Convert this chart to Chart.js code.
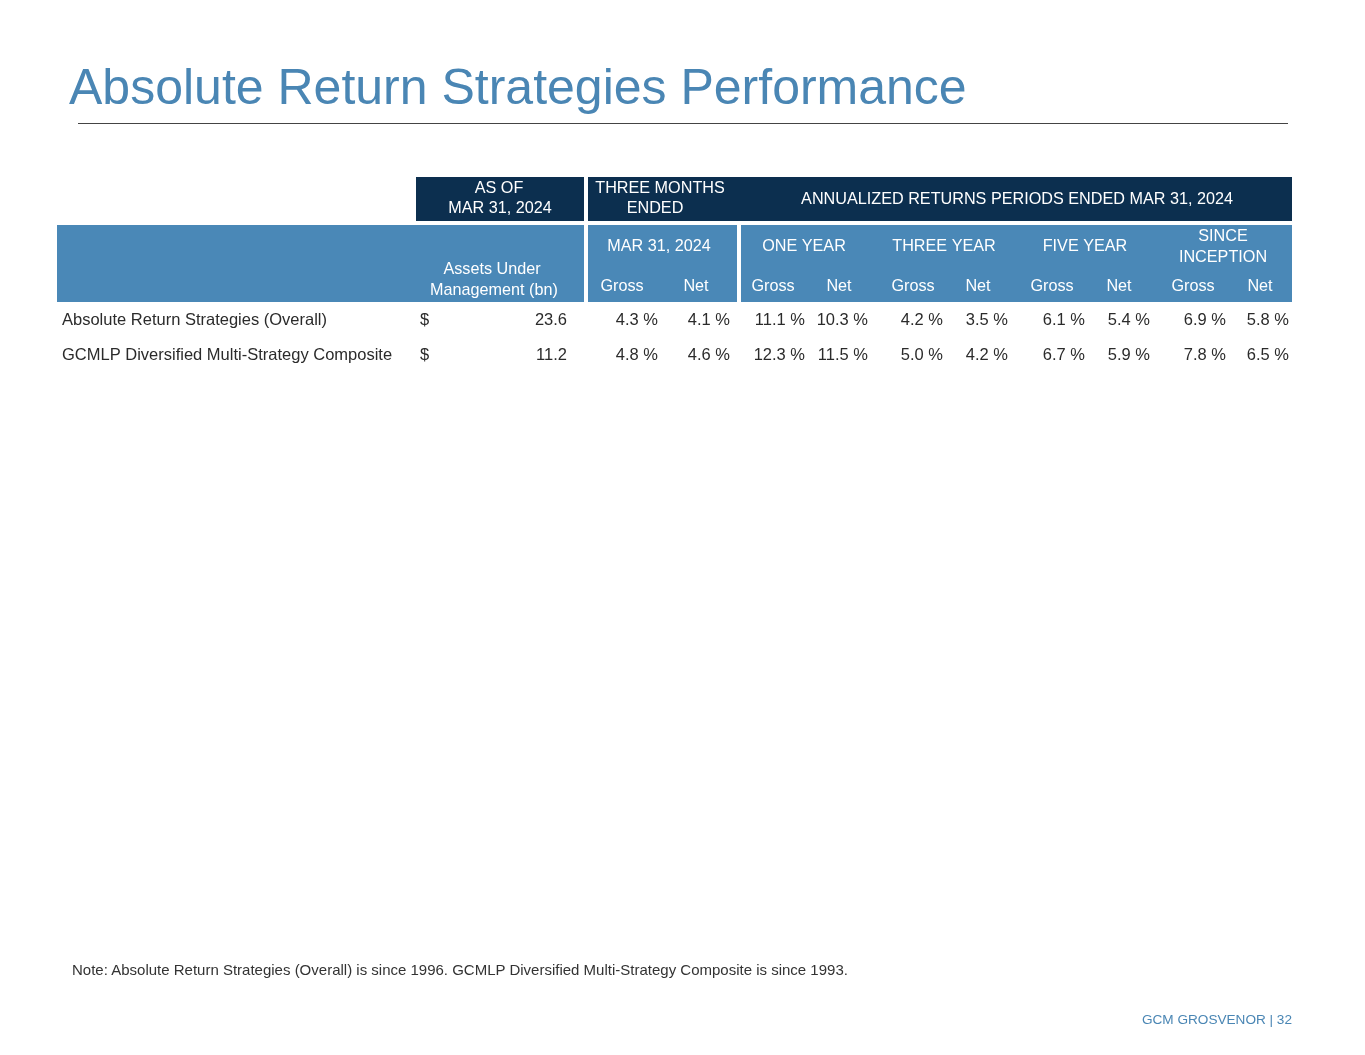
<!DOCTYPE html>
<html>
<head>
<meta charset="utf-8">
<script src="https://cdn.jsdelivr.net/npm/chart.js@4.4.1/dist/chart.umd.min.js"></script>
<style>
  html, body { margin: 0; padding: 0; background: #fff; }
  body { width: 1365px; height: 1055px; position: relative; overflow: hidden;
         font-family: 'Liberation Sans', Arial, sans-serif; }
  #title { position: absolute; left: 69px; top: 58px; margin: 0; font-size: 50px; font-weight: normal;
           color: #4a86b4; letter-spacing: 0; white-space: nowrap; }
  #rule { position: absolute; left: 78px; top: 123px; width: 1210px; height: 0; border-top: 1px solid #444; }
  #note { position: absolute; left: 72px; top: 961px; font-size: 15px; color: #333; white-space: nowrap; }
  #footer { position: absolute; right: 73px; top: 1012px; font-size: 13.6px; color: #4a86b4; white-space: nowrap; }
  #wrap { position: absolute; left: 0; top: 0; width: 1365px; height: 1055px; }
</style>
</head>
<body>
<h1 id="title">Absolute Return Strategies Performance</h1>
<div id="rule"></div>
<div id="wrap"><canvas id="perfTable" width="1365" height="1055"></canvas></div>
<div id="note">Note: Absolute Return Strategies (Overall) is since 1996. GCMLP Diversified Multi-Strategy Composite is since 1993.</div>
<div id="footer">GCM GROSVENOR | 32</div>
<script>
// data
const strategies = ['Absolute Return Strategies (Overall)', 'GCMLP Diversified Multi-Strategy Composite'];
const aumBn = [23.6, 11.2];
const threeMonthGross = [4.3, 4.8];
const threeMonthNet = [4.1, 4.6];
const oneYearGross = [11.1, 12.3];
const oneYearNet = [10.3, 11.5];
const threeYearGross = [4.2, 5.0];
const threeYearNet = [3.5, 4.2];
const fiveYearGross = [6.1, 6.7];
const fiveYearNet = [5.4, 5.9];
const sinceGross = [6.9, 7.8];
const sinceNet = [5.8, 6.5];
const periodLabels = [['MAR 31, 2024'], ['ONE YEAR'], ['THREE YEAR'], ['FIVE YEAR'], ['SINCE', 'INCEPTION']];
const subLabels = ['Gross', 'Net'];

// layout (page pixels, scales run 0..1365 / 0..1055)
const COLX = [805, 868, 943, 1008, 1085, 1150, 1226, 1289];
const Q_COLX = [658, 730];
const ROWY = [320, 355];
const SUB_CX = [[622, 696], [773, 839], [913, 978], [1052, 1119], [1193, 1260]];
const PERIOD_CX = [659, 804, 944, 1085, 1223];
const DARK = '#0c2f4f', LIGHT = '#4a88b7', INK = '#2b2b2b';
const FONT = "'Liberation Sans', Arial, sans-serif";

const pct = v => v.toFixed(1) + ' %';

function textSet(label, xs, values, fmt, align) {
  return {
    label: label,
    data: values.map((v, i) => ({ x: xs, y: ROWY[i] })),
    texts: values.map(fmt),
    align: align,
    pointRadius: 0,
    showLine: false
  };
}

const returnCols = [threeMonthGross, threeMonthNet, oneYearGross, oneYearNet, threeYearGross,
  threeYearNet, fiveYearGross, fiveYearNet, sinceGross, sinceNet];
const returnX = Q_COLX.concat(COLX);

const datasets = [
  textSet('Strategy', 62, strategies, s => s, 'left'),
  textSet('$', 420, strategies, () => '$', 'left'),
  textSet('AUM', 567, aumBn, v => v.toFixed(1), 'right')
].concat(returnCols.map((vals, i) => textSet('r' + i, returnX[i], vals, pct, 'right')));

const tablePlugin = {
  id: 'tablePlugin',
  beforeDatasetsDraw(chart) {
    const { ctx, scales: { x, y } } = chart;
    const rect = (x0, x1, y0, y1, c) => {
      ctx.fillStyle = c;
      const px0 = x.getPixelForValue(x0), px1 = x.getPixelForValue(x1);
      const py0 = y.getPixelForValue(y0), py1 = y.getPixelForValue(y1);
      ctx.fillRect(px0, py0, px1 - px0, py1 - py0);
    };
    const txt = (s, cx, cy, size) => {
      ctx.font = (size || 16.2) + 'px ' + FONT;
      ctx.fillText(s, x.getPixelForValue(cx), y.getPixelForValue(cy));
    };
    ctx.save();
    // header blocks
    rect(416, 584, 177, 221, DARK);
    rect(588, 1292, 177, 221, DARK);
    rect(57, 584, 225, 302, LIGHT);
    rect(588, 737, 225, 302, LIGHT);
    rect(741, 1292, 225, 302, LIGHT);

    ctx.fillStyle = '#fff';
    ctx.textAlign = 'center';
    ctx.textBaseline = 'middle';
    txt('AS OF', 499, 189);
    txt('MAR 31, 2024', 500, 209);
    txt('THREE MONTHS', 660, 189);
    txt('ENDED', 655, 209);
    txt('ANNUALIZED RETURNS PERIODS ENDED MAR 31, 2024', 1017, 200);
    txt('Assets Under', 492, 270);
    txt('Management (bn)', 494, 291);
    periodLabels.forEach((lines, i) => {
      const y0 = lines.length > 1 ? 237 : 247;
      lines.forEach((l, j) => txt(l, PERIOD_CX[i], y0 + j * 21));
      subLabels.forEach((s, j) => txt(s, SUB_CX[i][j], 287));
    });
    ctx.restore();
  },
  afterDatasetsDraw(chart) {
    const { ctx } = chart;
    ctx.save();
    ctx.font = '16.5px ' + FONT;
    ctx.fillStyle = INK;
    ctx.textBaseline = 'middle';
    chart.data.datasets.forEach((ds, i) => {
      ctx.textAlign = ds.align;
      chart.getDatasetMeta(i).data.forEach((el, j) => {
        ctx.fillText(ds.texts[j], el.x, el.y);
      });
    });
    ctx.restore();
  }
};

new Chart(document.getElementById('perfTable').getContext('2d'), {
  type: 'scatter',
  data: { datasets: datasets },
  options: {
    responsive: false,
    animation: false,
    events: [],
    layout: { padding: 0 },
    plugins: { legend: { display: false }, tooltip: { enabled: false } },
    scales: {
      x: { type: 'linear', min: 0, max: 1365, display: false },
      y: { type: 'linear', min: 0, max: 1055, reverse: true, display: false }
    }
  },
  plugins: [tablePlugin]
});
</script>
</body>
</html>
